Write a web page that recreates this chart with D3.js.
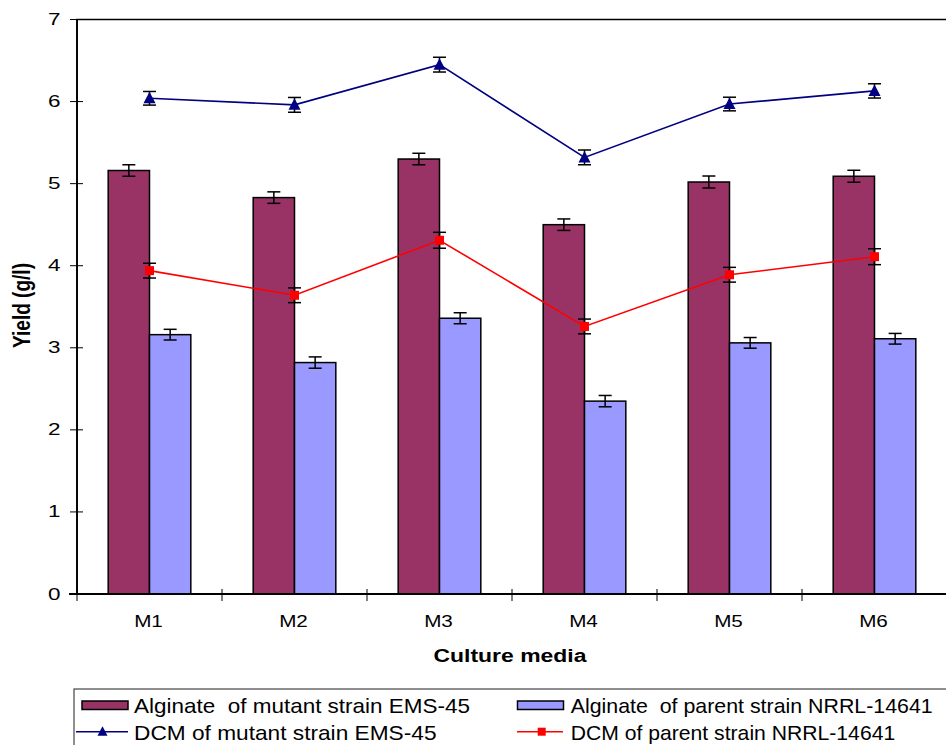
<!DOCTYPE html>
<html>
<head>
<meta charset="utf-8">
<script src="https://cdn.jsdelivr.net/npm/d3@7"></script>
<style>
  html, body { margin: 0; padding: 0; background: #fff; }
  svg { display: block; }
  text { font-family: "Liberation Sans", Arial, sans-serif; fill: #000; }
</style>
</head>
<body>
<svg id="chart" width="946" height="745"></svg>
<script>
// ---- data ----
const categories = ["M1", "M2", "M3", "M4", "M5", "M6"];
const yTicks = [0, 1, 2, 3, 4, 5, 6, 7];
const alginateMutant = [5.16, 4.83, 5.30, 4.50, 5.02, 5.09];
const alginateMutantErr = [0.07, 0.07, 0.07, 0.07, 0.073, 0.073];
const alginateParent = [3.16, 2.82, 3.36, 2.35, 3.06, 3.11];
const alginateParentErr = [0.065, 0.069, 0.067, 0.069, 0.065, 0.065];
const dcmMutant = [6.04, 5.96, 6.45, 5.32, 5.97, 6.13];
const dcmMutantErr = [0.083, 0.09, 0.09, 0.09, 0.083, 0.087];
const dcmParent = [3.94, 3.64, 4.31, 3.26, 3.89, 4.11];
const dcmParentErr = [0.09, 0.09, 0.097, 0.09, 0.09, 0.097];
const seriesNames = [
  "Alginate  of mutant strain EMS-45",
  "Alginate  of parent strain NRRL-14641",
  "DCM of mutant strain EMS-45",
  "DCM of parent strain NRRL-14641"
];
const xTitle = "Culture media";
const yTitle = "Yield (g/l)";

// ---- layout ----
const svg = d3.select("#chart");
const L = 77, R = 947, T = 19.5, B = 594;
const colMut = "#993366", colPar = "#9999FF", colBlue = "#000080", colRed = "#FF0000";

const x = d3.scaleBand().domain(categories).range([L, R]).paddingInner(0).paddingOuter(0);
const xs = d3.scaleBand().domain(["mut", "par"]).range([0, x.bandwidth()]).paddingInner(0).paddingOuter(0.755);
const y = d3.scaleLinear().domain([0, 7]).range([B, T]);

// frame (top + right)
svg.append("rect").attr("x", L).attr("y", T).attr("width", R - L).attr("height", B - T)
  .attr("fill", "none").attr("stroke", "#000").attr("stroke-width", 1.5);

// bars
const barData = [
  { key: "mut", vals: alginateMutant, errs: alginateMutantErr, color: colMut },
  { key: "par", vals: alginateParent, errs: alginateParentErr, color: colPar }
];
barData.forEach(s => {
  const g = svg.append("g");
  g.selectAll("rect").data(categories).enter().append("rect")
    .attr("x", (c) => x(c) + xs(s.key))
    .attr("y", (c, i) => y(s.vals[i]))
    .attr("width", xs.bandwidth())
    .attr("height", (c, i) => y(0) - y(s.vals[i]))
    .attr("fill", s.color).attr("stroke", "#000").attr("stroke-width", 1.5);
});

// error bar helper
function errorBars(cx, vals, errs) {
  const g = svg.append("g").attr("stroke", "#000").attr("stroke-width", 1.5).attr("fill", "none");
  categories.forEach((c, i) => {
    const xc = cx(c), y1 = y(vals[i] + errs[i]), y2 = y(vals[i] - errs[i]);
    g.append("line").attr("x1", xc).attr("x2", xc).attr("y1", y1).attr("y2", y2);
    g.append("line").attr("x1", xc - 6.5).attr("x2", xc + 6.5).attr("y1", y1).attr("y2", y1);
    g.append("line").attr("x1", xc - 6.5).attr("x2", xc + 6.5).attr("y1", y2).attr("y2", y2);
  });
}
barData.forEach(s => errorBars(c => x(c) + xs(s.key) + xs.bandwidth() / 2, s.vals, s.errs));

const cx = c => x(c) + x.bandwidth() / 2;
errorBars(cx, dcmMutant, dcmMutantErr);
errorBars(cx, dcmParent, dcmParentErr);

// lines
const line = d3.line().x((d, i) => cx(categories[i])).y(d => y(d));
svg.append("path").datum(dcmMutant).attr("d", line).attr("fill", "none")
  .attr("stroke", colBlue).attr("stroke-width", 1.6);
svg.append("path").datum(dcmParent).attr("d", line).attr("fill", "none")
  .attr("stroke", colRed).attr("stroke-width", 1.6);

const triPath = "M0,-6.5L6,5L-6,5Z";
svg.append("g").selectAll("path").data(dcmMutant).enter().append("path")
  .attr("d", triPath)
  .attr("transform", (d, i) => `translate(${cx(categories[i])},${y(d)})`)
  .attr("fill", colBlue);
svg.append("g").selectAll("rect").data(dcmParent).enter().append("rect")
  .attr("x", (d, i) => cx(categories[i]) - 4.5).attr("y", d => y(d) - 4.5)
  .attr("width", 9).attr("height", 9).attr("fill", colRed);

// axes
svg.append("line").attr("x1", L).attr("x2", L).attr("y1", T).attr("y2", B)
  .attr("stroke", "#000").attr("stroke-width", 1.8);
svg.append("line").attr("x1", L - 8).attr("x2", R).attr("y1", B).attr("y2", B)
  .attr("stroke", "#000").attr("stroke-width", 1.8);

const yAxis = svg.append("g");
yTicks.forEach(t => {
  yAxis.append("line").attr("x1", L - 7).attr("x2", L + 6).attr("y1", y(t)).attr("y2", y(t))
    .attr("stroke", "#000").attr("stroke-width", 1);
  yAxis.append("text").attr("x", 60.5).attr("y", y(t) + 5.5)
    .attr("text-anchor", "end").attr("font-size", 17)
    .attr("textLength", 12.5).attr("lengthAdjust", "spacingAndGlyphs").text(t);
});

const xAxis = svg.append("g");
categories.forEach((c, i) => {
  xAxis.append("line").attr("x1", x(c)).attr("x2", x(c)).attr("y1", B - 5).attr("y2", B + 7)
    .attr("stroke", "#000").attr("stroke-width", 1);
  xAxis.append("text").attr("x", cx(c) - 1).attr("y", 627.3)
    .attr("text-anchor", "middle").attr("font-size", 16)
    .attr("textLength", 28.7).attr("lengthAdjust", "spacingAndGlyphs").text(c);
});

// titles
svg.append("text").attr("x", 510).attr("y", 661.5).attr("text-anchor", "middle")
  .attr("font-size", 18).attr("font-weight", "bold")
  .attr("textLength", 153).attr("lengthAdjust", "spacingAndGlyphs").text(xTitle);
svg.append("text").attr("transform", "translate(30,305.5) rotate(-90) scale(1,1.3)")
  .attr("text-anchor", "middle").attr("font-size", 18).attr("font-weight", "bold")
  .attr("textLength", 85).attr("lengthAdjust", "spacingAndGlyphs").text(yTitle);

// legend
const lg = svg.append("g");
lg.append("rect").attr("x", 74).attr("y", 689).attr("width", 900).attr("height", 100)
  .attr("fill", "#fff").attr("stroke", "#444").attr("stroke-width", 1.2);
const legendItems = [
  { type: "bar", color: colMut, sx: 82, tx: 134, ty: 713.3, tl: 336, name: seriesNames[0] },
  { type: "bar", color: colPar, sx: 517.5, tx: 570.7, ty: 713.3, tl: 362, name: seriesNames[1] },
  { type: "tri", color: colBlue, sx: 76, tx: 134, ty: 740, tl: 302.5, name: seriesNames[2] },
  { type: "sq", color: colRed, sx: 517, tx: 570.7, ty: 740, tl: 324.5, name: seriesNames[3] }
];
legendItems.forEach(it => {
  if (it.type === "bar") {
    lg.append("rect").attr("x", it.sx).attr("y", 701).attr("width", 46).attr("height", 8.5)
      .attr("fill", it.color).attr("stroke", "#000").attr("stroke-width", 1.5);
  } else {
    const ly = 731.7, x0 = it.sx, x1 = 563;
    lg.append("line").attr("x1", x0).attr("x2", it.type === "tri" ? 128 : x1)
      .attr("y1", ly).attr("y2", ly).attr("stroke", it.color).attr("stroke-width", 1.5);
    if (it.type === "tri") {
      lg.append("path").attr("d", "M0,-5.5L5,4L-5,4Z")
        .attr("transform", `translate(102.5,${ly})`).attr("fill", it.color);
    } else {
      lg.append("rect").attr("x", 541.7 - 4).attr("y", ly - 4).attr("width", 8).attr("height", 8)
        .attr("fill", it.color);
    }
  }
  lg.append("text").attr("x", it.tx).attr("y", it.ty).attr("font-size", 21)
    .style("white-space", "pre")
    .attr("textLength", it.tl).attr("lengthAdjust", "spacingAndGlyphs").text(it.name);
});
</script>
</body>
</html>
